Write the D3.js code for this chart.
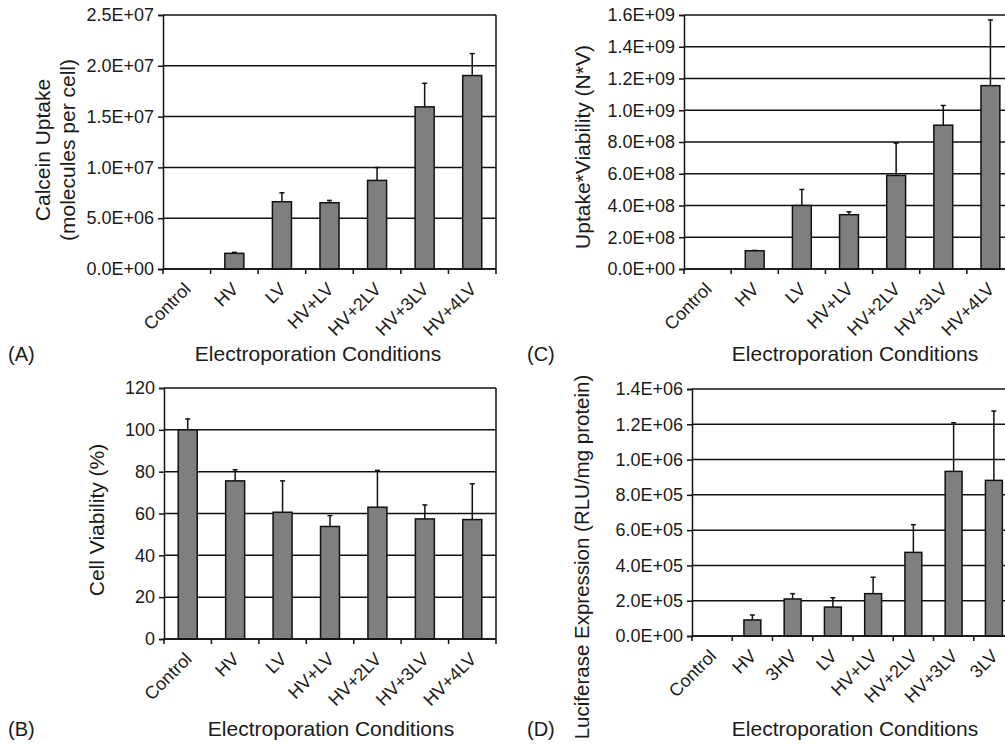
<!DOCTYPE html>
<html>
<head>
<meta charset="utf-8">
<script src="https://cdn.jsdelivr.net/npm/d3@7"></script>
<style>
  body { margin: 0; background: #fff; }
  svg { display: block; font-family: "Liberation Sans", Arial, sans-serif; }
  text { fill: #1a1a1a; }
</style>
</head>
<body>
<svg id="chart" width="1005" height="744"></svg>
<script>
// categories
const conditions = ['Control', 'HV', 'LV', 'HV+LV', 'HV+2LV', 'HV+3LV', 'HV+4LV'];
const luciferaseConditions = ['Control', 'HV', '3HV', 'LV', 'HV+LV', 'HV+2LV', 'HV+3LV', '3LV'];

// (A) calcein uptake, molecules per cell
const uptakeValues = [0, 1.54e6, 6.62e6, 6.52e6, 8.72e6, 1.596e7, 1.904e7];
const uptakeErrors = [0, 0.1e6, 0.88e6, 0.23e6, 1.27e6, 2.32e6, 2.16e6];
const uptakeTicks = [0, 5e6, 1e7, 1.5e7, 2e7, 2.5e7];

// (B) cell viability, %
const viabilityValues = [100, 75.6, 60.6, 53.8, 63.0, 57.4, 57.1];
const viabilityErrors = [5.2, 5.3, 15.0, 5.2, 17.6, 6.7, 17.1];
const viabilityTicks = [0, 20, 40, 60, 80, 100, 120];

// (C) uptake * viability
const nvValues = [0, 1.15e8, 4.0e8, 3.42e8, 5.89e8, 9.06e8, 1.155e9];
const nvErrors = [0, 0.02e8, 1.01e8, 0.18e8, 2.04e8, 1.24e8, 4.14e8];
const nvTicks = [0, 2e8, 4e8, 6e8, 8e8, 1e9, 1.2e9, 1.4e9, 1.6e9];

// (D) luciferase expression, RLU/mg protein
const luciferaseValues = [0, 0.91e5, 2.1e5, 1.64e5, 2.4e5, 4.74e5, 9.33e5, 8.82e5];
const luciferaseErrors = [0, 0.28e5, 0.3e5, 0.53e5, 0.93e5, 1.57e5, 2.76e5, 3.93e5];
const luciferaseTicks = [0, 2e5, 4e5, 6e5, 8e5, 1e6, 1.2e6, 1.4e6];

function excelSci(v) {
    if (v === 0) return '0.0E+00';
    const exp = Math.floor(Math.log10(v) + 1e-9);
    const m = v / Math.pow(10, exp);
    return m.toFixed(1) + 'E+' + String(exp).padStart(2, '0');
}

const svg = d3.select('#chart');

function drawPanel(p) {
    const g = svg.append('g');
    const x = d3.scaleBand().domain(p.categories).range([p.left, p.right]).padding(0);
    const y = d3.scaleLinear().domain([0, p.max]).range([p.bottom, p.top]);
    const barW = x.bandwidth() * p.barFrac;

    // gridlines
    g.selectAll('.grid')
        .data(p.ticks)
        .enter().append('line')
        .attr('x1', p.left).attr('x2', p.right)
        .attr('y1', d => y(d)).attr('y2', d => y(d))
        .attr('stroke', '#111').attr('stroke-width', 1.5);

    // right border
    g.append('line')
        .attr('x1', p.right).attr('x2', p.right)
        .attr('y1', p.top).attr('y2', p.bottom)
        .attr('stroke', '#111').attr('stroke-width', 1.5);

    // y axis
    const yAxis = g.append('g')
        .attr('transform', `translate(${p.left},0)`)
        .call(d3.axisLeft(y).tickValues(p.ticks).tickFormat(p.format).tickSize(5).tickPadding(4));
    yAxis.select('.domain').attr('stroke', '#111').attr('stroke-width', 1.5);
    yAxis.selectAll('.tick line').attr('stroke', '#111').attr('stroke-width', 1.5);
    yAxis.selectAll('.tick text')
        .attr('font-size', 18).attr('fill', '#1a1a1a')
        .attr('font-family', '"Liberation Sans", Arial, sans-serif');

    // bars
    g.selectAll('.bar')
        .data(p.values)
        .enter().append('rect')
        .attr('x', (d, i) => x(p.categories[i]) + (x.bandwidth() - barW) / 2)
        .attr('y', d => y(d))
        .attr('width', barW)
        .attr('height', d => y(0) - y(d))
        .attr('fill', '#7f7f7f')
        .attr('stroke', '#111')
        .attr('stroke-width', 1.5);

    // error bars (upper only)
    const eb = g.selectAll('.err')
        .data(p.values.map((v, i) => ({ v, e: p.errors[i], c: p.categories[i] })).filter(d => d.e > 0))
        .enter().append('g');
    eb.append('line')
        .attr('x1', d => x(d.c) + x.bandwidth() / 2)
        .attr('x2', d => x(d.c) + x.bandwidth() / 2)
        .attr('y1', d => y(d.v)).attr('y2', d => y(d.v + d.e))
        .attr('stroke', '#111').attr('stroke-width', 1.5);
    eb.append('line')
        .attr('x1', d => x(d.c) + x.bandwidth() / 2 - 2.5)
        .attr('x2', d => x(d.c) + x.bandwidth() / 2 + 2.5)
        .attr('y1', d => y(d.v + d.e)).attr('y2', d => y(d.v + d.e))
        .attr('stroke', '#111').attr('stroke-width', 1.5);

    // x axis line and ticks at band edges
    g.append('line')
        .attr('x1', p.left).attr('x2', p.right)
        .attr('y1', p.bottom).attr('y2', p.bottom)
        .attr('stroke', '#111').attr('stroke-width', 1.5);
    g.selectAll('.xtick')
        .data(d3.range(p.categories.length + 1))
        .enter().append('line')
        .attr('x1', i => p.left + i * x.bandwidth())
        .attr('x2', i => p.left + i * x.bandwidth())
        .attr('y1', p.bottom).attr('y2', p.bottom + 5)
        .attr('stroke', '#111').attr('stroke-width', 1.5);

    // rotated category labels
    g.selectAll('.xlabel')
        .data(p.categories)
        .enter().append('text')
        .attr('transform', d => `translate(${x(d) + x.bandwidth() / 2 - 4},${p.bottom + 12}) rotate(-45)`)
        .attr('text-anchor', 'end')
        .attr('dy', '0.72em')
        .attr('font-size', 18)
        .text(d => d);

    // y title
    const yt = g.append('text')
        .attr('transform', `translate(${p.yTitleX},${p.yTitleY}) rotate(-90)`)
        .attr('text-anchor', 'middle')
        .attr('font-size', p.yTitleSize || 21);
    p.yTitle.forEach((line, i) => {
        yt.append('tspan')
            .attr('x', 0)
            .attr('dy', i === 0 ? (0.35 - (p.yTitle.length - 1) * 0.6) + 'em' : '1.2em')
            .text(line);
    });

    // x title
    g.append('text')
        .attr('x', p.xTitleX).attr('y', p.xTitleY)
        .attr('text-anchor', 'middle')
        .attr('font-size', 21)
        .text('Electroporation Conditions');

    // panel letter
    g.append('text')
        .attr('x', p.letterX).attr('y', p.letterY)
        .attr('font-size', 20)
        .text(p.letter);
}

drawPanel({
    categories: conditions, values: uptakeValues, errors: uptakeErrors,
    ticks: uptakeTicks, max: 2.5e7, format: excelSci,
    left: 163, right: 496, top: 15, bottom: 269, barFrac: 0.4,
    yTitle: ['Calcein Uptake', '(molecules per cell)'], yTitleX: 55, yTitleY: 150,
    xTitleX: 318, xTitleY: 361, letter: '(A)', letterX: 8, letterY: 361
});

drawPanel({
    categories: conditions, values: viabilityValues, errors: viabilityErrors,
    ticks: viabilityTicks, max: 120, format: d => String(d),
    left: 164, right: 496, top: 388, bottom: 639, barFrac: 0.4,
    yTitle: ['Cell Viability (%)'], yTitleX: 97, yTitleY: 520,
    xTitleX: 331, xTitleY: 736, letter: '(B)', letterX: 8, letterY: 736
});

drawPanel({
    categories: conditions, values: nvValues, errors: nvErrors,
    ticks: nvTicks, max: 1.6e9, format: excelSci,
    left: 684, right: 1014, top: 15, bottom: 269, barFrac: 0.4,
    yTitle: ['Uptake*Viability (N*V)'], yTitleX: 583, yTitleY: 147,
    xTitleX: 855, xTitleY: 361, letter: '(C)', letterX: 527, letterY: 361
});

drawPanel({
    categories: luciferaseConditions, values: luciferaseValues, errors: luciferaseErrors,
    ticks: luciferaseTicks, max: 1.4e6, format: excelSci,
    left: 692, right: 1014, top: 389, bottom: 636, barFrac: 0.42,
    yTitle: ['Luciferase Expression (RLU/mg protein)'], yTitleX: 582, yTitleY: 557, yTitleSize: 20.5,
    xTitleX: 855, xTitleY: 736, letter: '(D)', letterX: 527, letterY: 736
});
</script>
</body>
</html>
